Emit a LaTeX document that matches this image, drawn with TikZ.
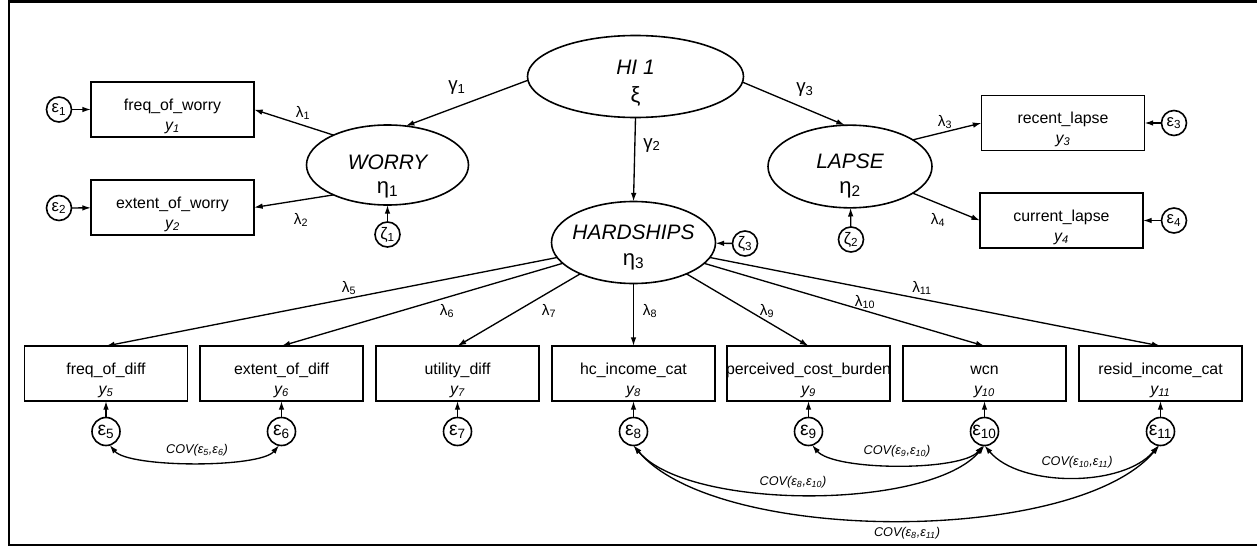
\documentclass[tikz,border=0pt]{standalone}
\usepackage{fontspec}
\setmainfont{Liberation Sans}
\usetikzlibrary{shapes.geometric, arrows.meta}

\tikzset{
  every node/.style={inner sep=0pt, outer sep=0pt},
  latent/.style={draw, ellipse, line width=1.2pt},
  obsbox/.style={draw, rectangle, line width=1.3pt, minimum width=122.25pt, minimum height=41.25pt},
  errsm/.style={draw, circle, line width=1.2pt, minimum size=18.75pt, font=\fontsize{12.5}{14}\selectfont},
  errlg/.style={draw, circle, line width=1.2pt, minimum size=21pt, font=\fontsize{14.5}{16}\selectfont},
  arr/.style={-{Latex[length=6.5pt,width=4.2pt]}, line width=1pt},
  cov/.style={{Latex[length=6.5pt,width=4.2pt]}-{Latex[length=6.5pt,width=4.2pt]}, line width=1pt},
  nametxt/.style={font=\fontsize{11.9}{14}\selectfont, anchor=base},
  ytxt/.style={font=\fontsize{11.9}{14}\selectfont\itshape, anchor=base},
  lattxt/.style={font=\fontsize{15.7}{18}\selectfont\itshape, anchor=base},
  latsym/.style={font=\fontsize{16.5}{18}\selectfont, anchor=base},
  lam/.style={font=\fontsize{11.5}{13}\selectfont},
  gam/.style={font=\fontsize{14}{16}\selectfont},
  covtxt/.style={font=\fontsize{9.5}{11}\selectfont\itshape},
}

% observed variable: name, x, y (downwards), label, index
\newcommand\obsvar[5]{%
  \node[obsbox] (#1) at (#2,-#3) {};
  \node[nametxt] (#1-t) at (#2,-#3-0.5) {#4};
  \node[ytxt] (#1-s) at (#2,-#3-20.5) {y\textsubscript{#5}};
}

\begin{document}
\begin{tikzpicture}[x=0.75pt,y=0.75pt]
\useasboundingbox (0,0) rectangle (1257,-546);
\draw[line width=1.5pt] (1257,-1.5) -- (8.5,-1.5) -- (8.5,-544.5) -- (1257,-544.5);

% latent variables
\node[latent, minimum width=162pt, minimum height=61.5pt] (hi) at (635.5,-76.5) {};
\node[lattxt] (hi-t) at (635.5,-74) {HI 1};
\node[latsym] (hi-s) at (635.5,-102) {ξ};

\node[latent, minimum width=121.5pt, minimum height=60pt] (worry) at (387.5,-165) {};
\node[lattxt] (worry-t) at (387.5,-169) {WORRY};
\node[latsym] (worry-s) at (387.5,-193) {η\textsubscript{1}};

\node[latent, minimum width=123pt, minimum height=62pt] (lapse) at (850,-166.5) {};
\node[lattxt] (lapse-t) at (850,-168) {LAPSE};
\node[latsym] (lapse-s) at (850,-193) {η\textsubscript{2}};

\node[latent, minimum width=123pt, minimum height=61.5pt] (hard) at (633.5,-242.5) {};
\node[lattxt] (hard-t) at (633.5,-239) {HARDSHIPS};
\node[latsym] (hard-s) at (633.5,-265) {η\textsubscript{3}};

% observed variables
\obsvar{fw}{172.5}{109.5}{freq\_of\_worry}{1}
\obsvar{ew}{172.5}{207.5}{extent\_of\_worry}{2}
\obsvar{rl}{1063}{123}{recent\_lapse}{3}
\obsvar{cl}{1061.5}{220.5}{current\_lapse}{4}
\obsvar{fd}{106}{373.5}{freq\_of\_diff}{5}
\obsvar{ed}{281.5}{373.5}{extent\_of\_diff}{6}
\obsvar{ud}{457.5}{373.5}{utility\_diff}{7}
\obsvar{hc}{633.5}{373.5}{hc\_income\_cat}{8}
\obsvar{pc}{808.5}{373.5}{perceived\_cost\_burden}{9}
\obsvar{wc}{984.5}{373.5}{wcn}{10}
\obsvar{ri}{1160.5}{373.5}{resid\_income\_cat}{11}

% disturbances and errors
\node[errsm] (z1) at (387.5,-234.5) {ζ\textsubscript{1}};
\node[errsm] (z2) at (851,-239.5) {ζ\textsubscript{2}};
\node[errsm] (z3) at (745,-243.5) {ζ\textsubscript{3}};
\node[errsm] (e1) at (59,-109.5) {ε\textsubscript{1}};
\node[errsm] (e2) at (59,-208) {ε\textsubscript{2}};
\node[errsm] (e3) at (1174,-123) {ε\textsubscript{3}};
\node[errsm] (e4) at (1174,-220.5) {ε\textsubscript{4}};
\node[errlg] (e5) at (106,-431.5) {ε\textsubscript{5}};
\node[errlg] (e6) at (281.5,-431.5) {ε\textsubscript{6}};
\node[errlg] (e7) at (457.5,-431.5) {ε\textsubscript{7}};
\node[errlg] (e8) at (633.5,-431.5) {ε\textsubscript{8}};
\node[errlg] (e9) at (808.5,-431.5) {ε\textsubscript{9}};
\node[errlg] (e10) at (984.5,-431.5) {ε\textsubscript{10}};
\node[errlg] (e11) at (1160.5,-431.5) {ε\textsubscript{11}};

% structural paths
\draw[arr] (hi.182) -- (worry.65);
\draw[arr] (hi.south) -- (hard.north);
\draw[arr] (hi.-3) -- (lapse.97);

% measurement paths
\draw[arr] (worry.151) -- (fw.east);
\draw[arr] (worry.209) -- (ew.east);
\draw[arr] (lapse.23) -- (rl.west);
\draw[arr] (lapse.-23) -- (cl.west);
\foreach \b in {fd,ed,ud,hc,pc,wc,ri}
  \draw[arr] (hard) -- (\b.north);

% disturbance and error paths
\draw[arr] (z1) -- (worry);
\draw[arr] (z2) -- (lapse);
\draw[arr] (z3) -- (hard);
\draw[arr] (e1) -- (fw);
\draw[arr] (e2) -- (ew);
\draw[arr] (e3) -- (rl);
\draw[arr] (e4) -- (cl);
\foreach \e/\b in {e5/fd,e6/ed,e7/ud,e8/hc,e9/pc,e10/wc,e11/ri}
  \draw[arr] (\e) -- (\b);

% error covariances
\draw[cov] (e5.-75) .. controls +(-50:30) and +(-130:30) .. (e6.-100);
\draw[cov] (e9.-75) .. controls +(-50:34) and +(-130:34) .. (e10.-95);
\draw[cov] (e10.-90) .. controls +(-50:55) and +(-130:55) .. (e11.-98);
\draw[cov] (e8.-90) .. controls +(-50:85) and +(-130:85) .. (e10.-90);
\draw[cov] (e8.-90) .. controls +(-50:130) and +(-130:130) .. (e11.-95);

% path labels
\node[gam] (g1) at (457,-88) {γ\textsubscript{1}};
\node[gam] (g2) at (652,-145) {γ\textsubscript{2}};
\node[gam] (g3) at (805,-90) {γ\textsubscript{3}};
\node[lam] (l1) at (303,-113) {λ\textsubscript{1}};
\node[lam] (l2) at (301,-220) {λ\textsubscript{2}};
\node[lam] (l3) at (945,-122) {λ\textsubscript{3}};
\node[lam] (l4) at (938,-220) {λ\textsubscript{4}};
\node[lam] (l5) at (349,-288) {λ\textsubscript{5}};
\node[lam] (l6) at (447,-311) {λ\textsubscript{6}};
\node[lam] (l7) at (549,-311) {λ\textsubscript{7}};
\node[lam] (l8) at (650,-311) {λ\textsubscript{8}};
\node[lam] (l9) at (767,-311) {λ\textsubscript{9}};
\node[lam] (l10) at (865,-302) {λ\textsubscript{10}};
\node[lam] (l11) at (922,-288) {λ\textsubscript{11}};

\node[covtxt] (c56) at (197,-450) {COV(ε\textsubscript{5},ε\textsubscript{6})};
\node[covtxt] (c910) at (897,-451) {COV(ε\textsubscript{9},ε\textsubscript{10})};
\node[covtxt] (c1011) at (1077,-462) {COV(ε\textsubscript{10},ε\textsubscript{11})};
\node[covtxt] (c810) at (793,-482) {COV(ε\textsubscript{8},ε\textsubscript{10})};
\node[covtxt] (c811) at (907,-533) {COV(ε\textsubscript{8},ε\textsubscript{11})};
\end{tikzpicture}
\end{document}
